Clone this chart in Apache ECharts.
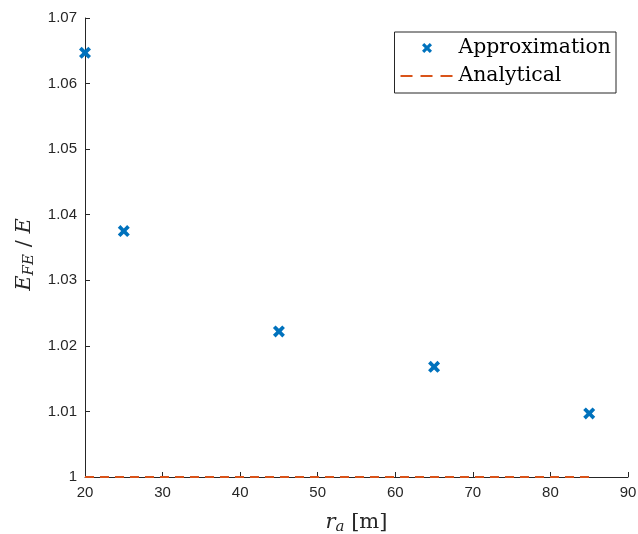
<!DOCTYPE html>
<html>
<head>
<meta charset="utf-8">
<script src="https://cdn.jsdelivr.net/npm/echarts@6/dist/echarts.min.js"></script>
<style>
  html, body { margin: 0; padding: 0; background: #fff; }
  #chart { width: 638px; height: 534px; }
</style>
</head>
<body>
<div id="chart"></div>
<script>
// data
const radii = [20, 25, 45, 65, 85];
const approxRatio = [1.0647, 1.0375, 1.0222, 1.0168, 1.0097];
const analyticalRatio = [1, 1, 1, 1, 1];

const xTicks = { min: 20, max: 90, step: 10 };
const yTicks = { min: 1, max: 1.07, step: 0.01 };

// filled X shaped marker
const crossPath = 'path://M2.2,0 L5,2.8 L7.8,0 L10,2.2 L7.2,5 L10,7.8 L7.8,10 L5,7.2 L2.2,10 L0,7.8 L2.8,5 L0,2.2 Z';

const axisColor = '#262626';
const serif = '"DejaVu Serif", "Liberation Serif", serif';
const sans = '"Liberation Sans", Arial, sans-serif';

const mathRich = {
  i: { fontFamily: serif, fontStyle: 'italic', fontSize: 21, color: axisColor },
  s: { fontFamily: serif, fontStyle: 'italic', fontSize: 15, color: axisColor, padding: [9, 0, 0, 0] },
  n: { fontFamily: serif, fontSize: 21, color: axisColor }
};

const chart = echarts.init(document.getElementById('chart'));

chart.setOption({
  animation: false,
  backgroundColor: '#fff',
  grid: { left: 85, right: 10, top: 18, bottom: 57, outerBoundsMode: 'none', containLabel: false },
  legend: {
    orient: 'vertical',
    right: 22,
    top: 32,
    borderColor: axisColor,
    borderWidth: 1,
    borderRadius: 0,
    padding: [6, 5, 7, 5],
    itemGap: 8,
    itemWidth: 53,
    itemHeight: 10,
    textStyle: { fontFamily: serif, fontSize: 20.4, color: '#000' },
    data: [
      { name: 'Approximation', icon: crossPath, itemStyle: { color: '#0072BD', opacity: 1 } },
      { name: 'Analytical', itemStyle: { opacity: 0 }, lineStyle: { type: [12, 8], width: 2, color: '#D95319' } }
    ]
  },
  xAxis: {
    type: 'value',
    min: xTicks.min,
    max: xTicks.max,
    interval: xTicks.step,
    name: '{i|r}{s|a}  {n|[m]}',
    nameLocation: 'middle',
    nameGap: 34,
    nameTextStyle: { rich: mathRich },
    splitLine: { show: false },
    axisLine: { lineStyle: { color: axisColor, width: 1 } },
    axisTick: { inside: true, length: 5, lineStyle: { color: axisColor } },
    axisLabel: { fontFamily: sans, fontSize: 15, color: axisColor, margin: 8 }
  },
  yAxis: {
    type: 'value',
    min: yTicks.min,
    max: yTicks.max,
    interval: yTicks.step,
    name: '{i|E}{s|FE}{n| / }{i|E}',
    nameLocation: 'middle',
    nameRotate: 90,
    nameGap: 45,
    nameTextStyle: { rich: mathRich, padding: [0, 14, 0, 0] },
    splitLine: { show: false },
    axisLine: { show: true, lineStyle: { color: axisColor, width: 1 } },
    axisTick: { show: true, inside: true, length: 5, lineStyle: { color: axisColor } },
    axisLabel: {
      fontFamily: sans, fontSize: 15, color: axisColor, margin: 8,
      formatter: v => String(parseFloat(v.toFixed(2)))
    }
  },
  series: [
    {
      name: 'Approximation',
      type: 'scatter',
      symbol: crossPath,
      symbolSize: 12,
      itemStyle: { color: '#0072BD', opacity: 1 },
      data: radii.map((r, i) => [r, approxRatio[i]]),
      z: 3
    },
    {
      name: 'Analytical',
      type: 'line',
      symbol: 'none',
      lineStyle: { color: '#D95319', width: 2, type: [9, 6] },
      itemStyle: { color: '#D95319' },
      data: radii.map((r, i) => [r, analyticalRatio[i]]),
      z: 2
    }
  ]
});
</script>
</body>
</html>
